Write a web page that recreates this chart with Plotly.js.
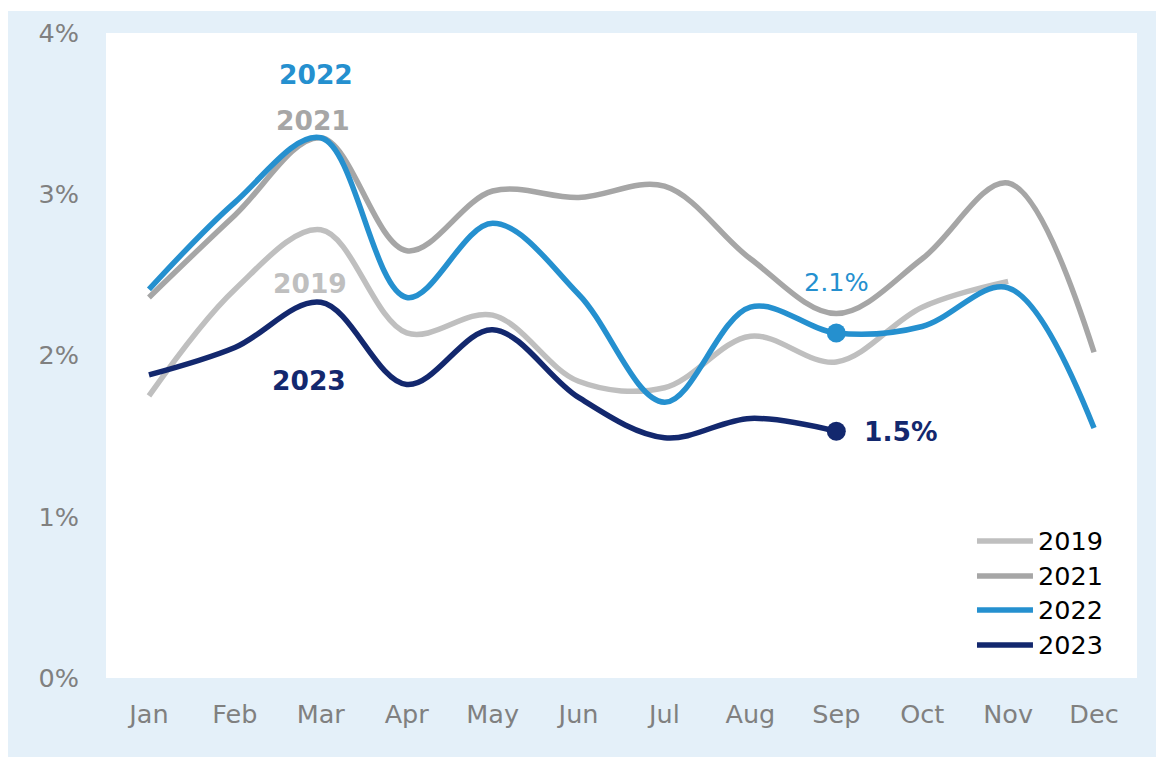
<!DOCTYPE html>
<html>
<head>
<meta charset="utf-8">
<script src="https://cdn.plot.ly/plotly-3.0.1.min.js"></script>
<style>
  html, body { margin: 0; padding: 0; background: #ffffff; }
  #chart { position: absolute; left: 8px; top: 11px; width: 1148px; height: 746px; }
</style>
</head>
<body>
<div id="chart"></div>
<script>
// ---- data ----
const months = ['Jan','Feb','Mar','Apr','May','Jun','Jul','Aug','Sep','Oct','Nov','Dec'];
const y2019 = [1.75, 2.41, 2.78, 2.14, 2.25, 1.84, 1.80, 2.12, 1.96, 2.30, 2.46];
const y2021 = [2.36, 2.87, 3.35, 2.65, 3.02, 2.98, 3.05, 2.60, 2.26, 2.60, 3.07, 2.02];
const y2022 = [2.41, 2.95, 3.35, 2.36, 2.82, 2.38, 1.71, 2.30, 2.14, 2.18, 2.42, 1.55];
const y2023 = [1.88, 2.05, 2.33, 1.82, 2.16, 1.74, 1.49, 1.61, 1.53];
const seriesNames = ['2019', '2021', '2022', '2023'];
const yTickVals = [0, 1, 2, 3, 4];
const yTickText = ['0%', '1%', '2%', '3%', '4%'];

// ---- styles ----
const colors = {'2019': '#bfbfbf', '2021': '#a6a6a6', '2022': '#2590cf', '2023': '#13286e'};
const seriesData = {'2019': y2019, '2021': y2021, '2022': y2022, '2023': y2023};
const FONT = 'Verdana, "DejaVu Sans", sans-serif';

const traces = seriesNames.map(name => ({
  type: 'scatter', mode: 'lines', name: name,
  x: months.slice(0, seriesData[name].length),
  y: seriesData[name],
  line: {color: colors[name], width: 5.5, shape: 'spline', smoothing: 1},
  showlegend: false, hoverinfo: 'x+y'
}));

// end-point markers for 2022 and 2023 at Sep
['2022', '2023'].forEach(name => {
  const idx = months.indexOf('Sep');
  traces.push({
    type: 'scatter', mode: 'markers', x: [months[idx]], y: [seriesData[name][idx]],
    marker: {color: colors[name], size: 19}, showlegend: false, hoverinfo: 'skip'
  });
});

// custom legend (bottom right of plot area)
const legendRowsY = [0.2124, 0.1581, 0.1054, 0.0512];
const shapes = [];
const annotations = [];
seriesNames.forEach((name, i) => {
  shapes.push({
    type: 'line', xref: 'paper', yref: 'paper',
    x0: 0.8448, x1: 0.8991, y0: legendRowsY[i], y1: legendRowsY[i],
    line: {color: colors[name], width: 5.5}
  });
  annotations.push({
    xref: 'paper', yref: 'paper', x: 0.902, y: legendRowsY[i],
    xanchor: 'left', yanchor: 'middle', showarrow: false, text: name,
    font: {family: FONT, size: 25.5, color: '#000000'}
  });
});

// series labels
const seriesLabels = [
  {name: '2022', x: 0.2037, y: 0.9349},
  {name: '2021', x: 0.2008, y: 0.8636},
  {name: '2019', x: 0.1979, y: 0.6109},
  {name: '2023', x: 0.1969, y: 0.4605}
];
seriesLabels.forEach(l => annotations.push({
  xref: 'paper', yref: 'paper', x: l.x, y: l.y, xanchor: 'center', yanchor: 'middle',
  showarrow: false, text: '<b>' + l.name + '</b>',
  font: {family: FONT, size: 26.5, color: colors[l.name]}
}));

// value labels at last point
const sepIdx = months.indexOf('Sep');
annotations.push({
  x: 'Sep', y: y2022[sepIdx], xref: 'x', yref: 'y', showarrow: false,
  text: y2022[sepIdx].toFixed(1) + '%', xanchor: 'center', yanchor: 'middle', yshift: 51,
  font: {family: FONT, size: 25.5, color: colors['2022']}
});
annotations.push({
  x: 'Sep', y: y2023[sepIdx], xref: 'x', yref: 'y', showarrow: false,
  text: '<b>' + y2023[sepIdx].toFixed(1) + '%</b>', xanchor: 'left', yanchor: 'middle', xshift: 26,
  font: {family: FONT, size: 26.5, color: colors['2023']}
});

const layout = {
  width: 1148, height: 746,
  margin: {l: 98, r: 19, t: 22, b: 79},
  paper_bgcolor: '#e4f0f9',
  plot_bgcolor: '#ffffff',
  showlegend: false,
  font: {family: FONT, size: 25, color: '#808080'},
  xaxis: {
    type: 'category', categoryorder: 'array', categoryarray: months,
    range: [-0.5, 11.5], showgrid: false, zeroline: false, showline: false,
    ticks: '', ticklabelstandoff: 18,
    tickfont: {family: FONT, size: 25.5, color: '#808080'}
  },
  yaxis: {
    range: [0, 4], tickvals: yTickVals, ticktext: yTickText,
    showgrid: false, zeroline: false, showline: false, ticks: '', ticklabelstandoff: 26,
    tickfont: {family: FONT, size: 25.5, color: '#808080'}
  },
  shapes: shapes,
  annotations: annotations
};

Plotly.newPlot('chart', traces, layout, {displayModeBar: false, staticPlot: true});
</script>
</body>
</html>
